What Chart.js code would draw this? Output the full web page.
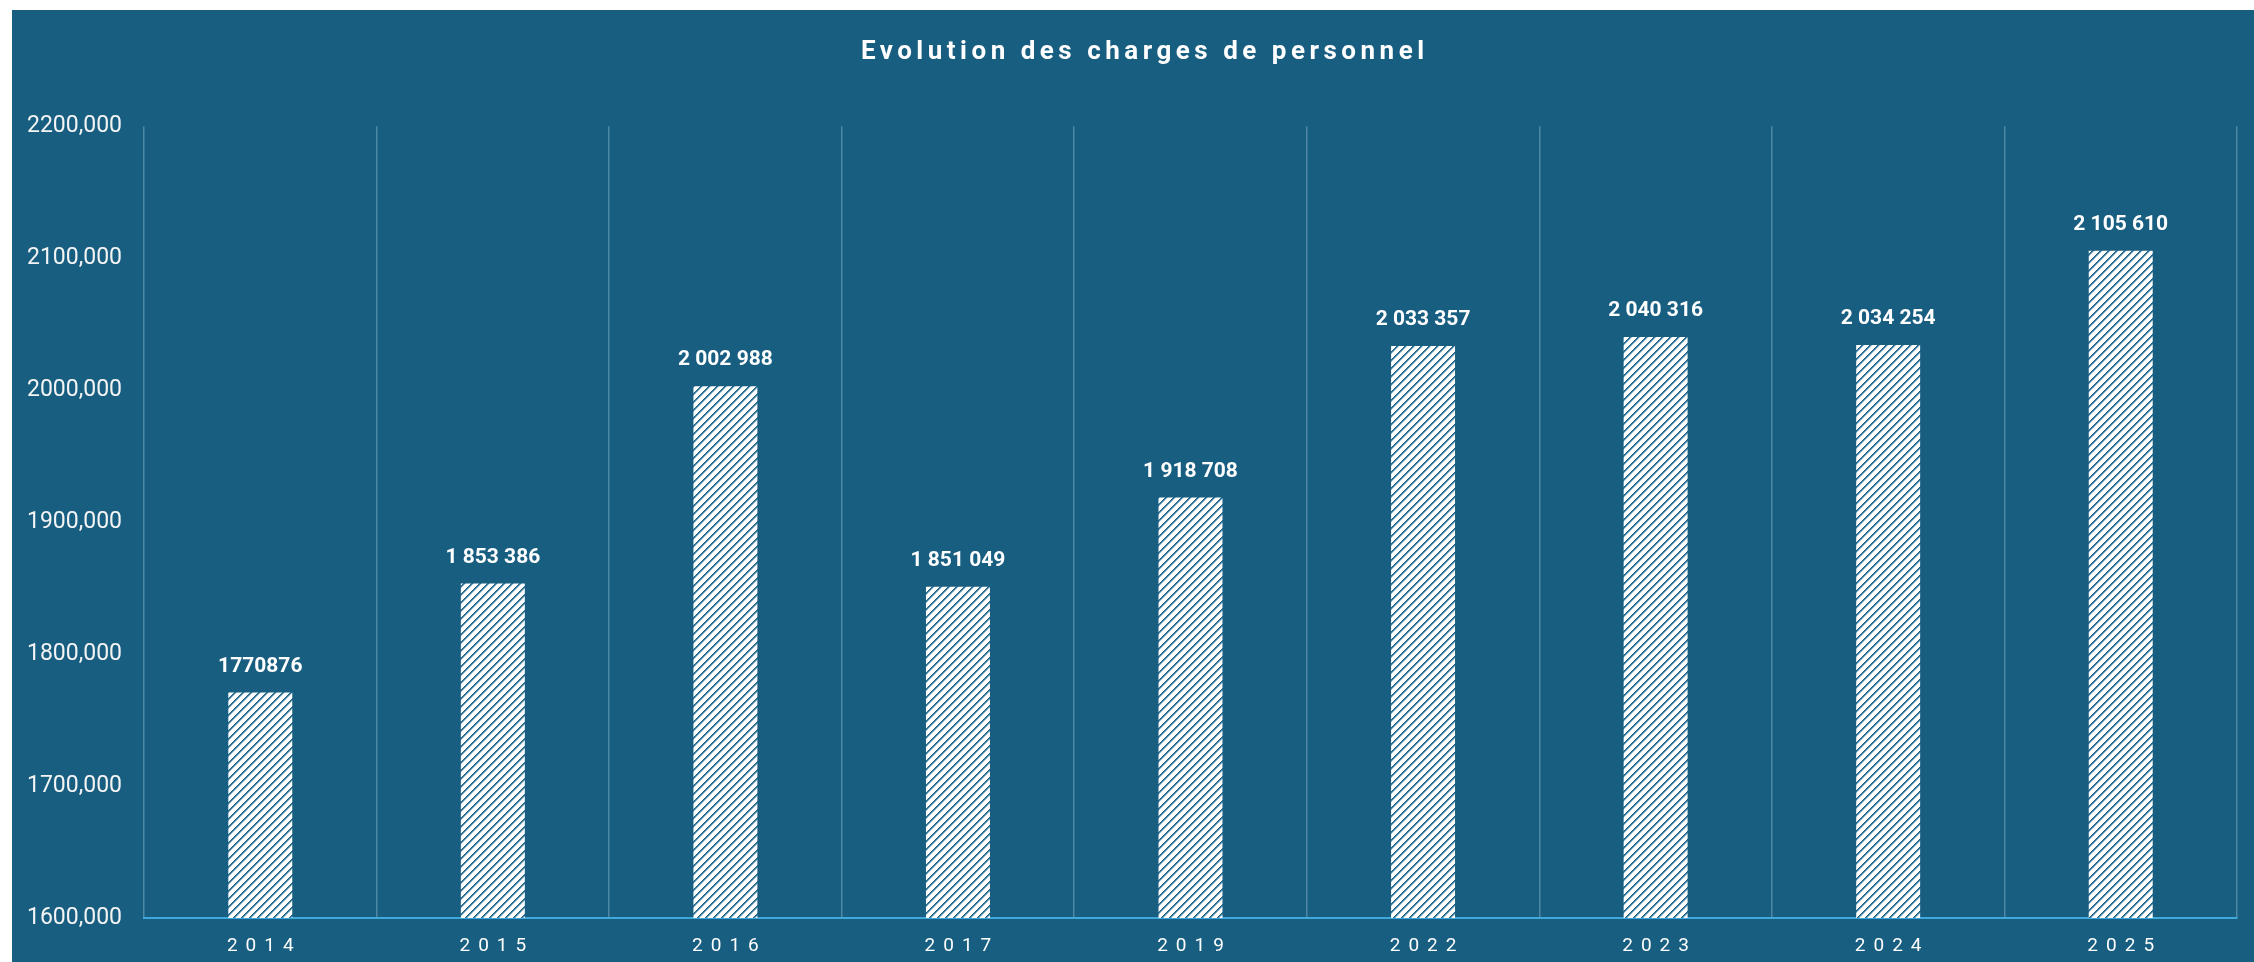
<!DOCTYPE html>
<html>
<head>
<meta charset="utf-8">
<title>Evolution des charges de personnel</title>
<script src="https://cdn.jsdelivr.net/npm/chart.js@4.4.1/dist/chart.umd.min.js"></script>
<style>
    html, body { margin: 0; padding: 0; background: #ffffff; overflow: hidden; }
    #wrap { position: absolute; left: 12px; top: 10px; width: 2242px; height: 952px; background: #175e81; }
</style>
</head>
<body>
<div id="wrap"><canvas id="myChart"></canvas></div>
<script>
const years = ['2014', '2015', '2016', '2017', '2019', '2022', '2023', '2024', '2025'];
const charges = [1770876, 1853386, 2002988, 1851049, 1918708, 2033357, 2040316, 2034254, 2105610];
const barLabels = ['1770876', '1 853 386', '2 002 988', '1 851 049', '1 918 708', '2 033 357', '2 040 316', '2 034 254', '2 105 610'];
const yTickLabels = ['1600,000', '1700,000', '1800,000', '1900,000', '2000,000', '2100,000', '2200,000'];

const bgBlue = '#175e81';
const fontFamily = 'Roboto, "Liberation Sans", Arial, sans-serif';

// white bars with blue upward diagonal lines (/)
function makeHatch () {
    const n = 8;
    const shades = ['#1f6487', '#3f7ea0', '#9dbfd0'];
    const c = document.createElement('canvas');
    c.width = n;
    c.height = n;
    const g = c.getContext('2d');
    g.fillStyle = '#ffffff';
    g.fillRect(0, 0, n, n);
    for (let x = 0; x < n; x++) {
        for (let y = 0; y < n; y++) {
            const k = (x + y) % n;
            if (k < shades.length) {
                g.fillStyle = shades[k];
                g.fillRect(x, y, 1, 1);
            }
        }
    }
    return g.createPattern(c, 'repeat');
}

// letter spacing for x labels and title
function withSpacing (obj, name, ctx, px, dx) {
    if (!obj || obj['_sp_' + name]) return;
    const orig = obj[name];
    obj[name] = function () {
        ctx.save();
        ctx.letterSpacing = px + 'px';
        ctx.translate(px / 2 + (dx || 0), 0);
        orig.apply(this, arguments);
        ctx.restore();
    };
    obj['_sp_' + name] = true;
}

const spacedText = {
    id: 'spacedText',
    beforeDraw: function (chart) {
        withSpacing(chart.scales.x, 'drawLabels', chart.ctx, 8, 0);
        withSpacing(chart.titleBlock, 'draw', chart.ctx, 4.5, 18);
    }
};

const barValueLabels = {
    id: 'barValueLabels',
    afterDatasetsDraw: function (chart) {
        const ctx = chart.ctx;
        const meta = chart.getDatasetMeta(0);
        ctx.save();
        ctx.font = 'bold 21px ' + fontFamily;
        ctx.fillStyle = '#ffffff';
        ctx.textAlign = 'center';
        ctx.textBaseline = 'middle';
        meta.data.forEach(function (bar, i) {
            ctx.fillText(barLabels[i], bar.x, bar.y - 26);
        });
        ctx.restore();
    }
};

const ctx = document.getElementById('myChart');
const myChart = new Chart(ctx, {
    type: 'bar',
    data: {
        labels: years,
        datasets: [{
            data: charges,
            backgroundColor: makeHatch(),
            borderWidth: 0,
            categoryPercentage: 1,
            barPercentage: 0.275
        }]
    },
    plugins: [spacedText, barValueLabels],
    options: {
        responsive: true,
        maintainAspectRatio: false,
        animation: false,
        layout: {
            padding: { left: 0, right: 17, top: 0, bottom: 0 }
        },
        plugins: {
            legend: { display: false },
            tooltip: { enabled: false },
            title: {
                display: true,
                text: 'Evolution des charges de personnel',
                color: '#ffffff',
                font: { family: fontFamily, size: 26, weight: 'bold' },
                padding: { top: 27, bottom: 58 }
            }
        },
        scales: {
            x: {
                grid: {
                    display: true,
                    offset: true,
                    color: '#4f88a5',
                    lineWidth: 1.5,
                    drawTicks: false
                },
                border: { display: true, color: '#3fa9dc', width: 2 },
                afterFit: function (scale) { scale.height = 44; },
                ticks: {
                    color: '#ffffff',
                    padding: 17,
                    font: { family: fontFamily, size: 19 }
                }
            },
            y: {
                min: 1600000,
                max: 2200000,
                grid: { display: false, drawTicks: false },
                border: { display: false },
                afterFit: function (scale) { scale.width = 132; },
                ticks: {
                    stepSize: 100000,
                    color: '#f4f4f4',
                    padding: 22,
                    font: { family: fontFamily, size: 23 },
                    callback: function (value, index) {
                        return yTickLabels[index];
                    }
                }
            }
        }
    }
});
</script>
</body>
</html>
